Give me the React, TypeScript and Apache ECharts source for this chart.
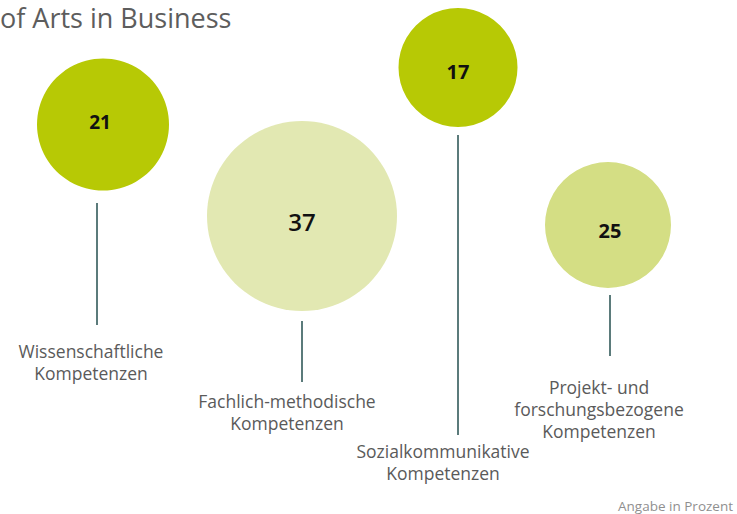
import React, { useEffect, useRef } from "react";
import * as echarts from "echarts";

const titleText = "of Arts in Business";
const noteText = "Angabe in Prozent";
const categories = [
  "Wissenschaftliche\nKompetenzen",
  "Fachlich-methodische\nKompetenzen",
  "Sozialkommunikative\nKompetenzen",
  "Projekt- und\nforschungsbezogene\nKompetenzen",
];
const values = [21, 37, 17, 25];

// design layout (in chart pixel units)
const layout = [
  { cx: 103, cy: 124.5, r: 66, color: "#b7c905", vx: 100, vy: 122, vs: 19, vw: "bold", sx: 97, s1: 203, s2: 325, lx: 91, ly: 362 },
  { cx: 302, cy: 216, r: 95, color: "#e2e8b2", vx: 302, vy: 221, vs: 24, vw: 600, sx: 302, s1: 321, s2: 382, lx: 287, ly: 412 },
  { cx: 458, cy: 67.5, r: 59.5, color: "#b7c905", vx: 458, vy: 71, vs: 20, vw: "bold", sx: 458, s1: 135, s2: 435, lx: 443, ly: 461.5 },
  { cx: 608, cy: 225, r: 63, color: "#d4de84", vx: 610, vy: 230, vs: 20, vw: "bold", sx: 610, s1: 295, s2: 356, lx: 599, ly: 409 },
];

const FONT = "'Open Sans', sans-serif";

export default function App() {
  const ref = useRef<HTMLDivElement>(null);
  useEffect(() => {
    if (!ref.current) return;
    const chart = echarts.init(ref.current, null, { renderer: "svg" });
    chart.setOption({
      animation: false,
      backgroundColor: "#ffffff",
      grid: { left: 0, right: 0, top: 0, bottom: 0 },
      xAxis: { type: "value", min: 0, max: 737, show: false },
      yAxis: { type: "value", min: 0, max: 514, inverse: true, show: false },
      graphic: [
        {
          type: "text",
          left: 0,
          top: 4,
          style: { text: titleText, font: `27px ${FONT}`, fill: "#5d5d5d" },
        },
        {
          type: "text",
          right: 4,
          top: 499,
          style: { text: noteText, font: `13.5px ${FONT}`, fill: "#8f8f8f" },
        },
      ],
      series: [
        {
          type: "custom",
          coordinateSystem: "cartesian2d",
          data: values.map((v, i) => [i, v]),
          renderItem: (params: any, api: any) => {
            const i = params.dataIndex;
            const L = layout[i];
            const c = api.coord([L.cx, L.cy]);
            const r = api.size([L.r, 0])[0];
            const vp = api.coord([L.vx, L.vy]);
            const s1 = api.coord([L.sx, L.s1]);
            const s2 = api.coord([L.sx, L.s2]);
            const lp = api.coord([L.lx, L.ly]);
            return {
              type: "group",
              children: [
                { type: "circle", shape: { cx: c[0], cy: c[1], r }, style: { fill: L.color } },
                {
                  type: "text",
                  x: vp[0],
                  y: vp[1],
                  style: {
                    text: String(api.value(1)),
                    align: "center",
                    verticalAlign: "middle",
                    font: `${L.vw} ${L.vs}px ${FONT}`,
                    fill: "#111111",
                  },
                },
                {
                  type: "line",
                  shape: { x1: s1[0], y1: s1[1], x2: s2[0], y2: s2[1] },
                  style: { stroke: "#5b7b7b", lineWidth: 2 },
                },
                {
                  type: "text",
                  x: lp[0],
                  y: lp[1],
                  style: {
                    text: categories[i],
                    align: "center",
                    verticalAlign: "middle",
                    font: `17.5px ${FONT}`,
                    lineHeight: 22,
                    fill: "#5a5a5a",
                  },
                },
              ],
            };
          },
        },
      ],
    });
    return () => chart.dispose();
  }, []);
  return (
    <div
      ref={ref}
      style={{ position: "absolute", left: 0, top: 0, width: 737, height: 514 }}
    />
  );
}
